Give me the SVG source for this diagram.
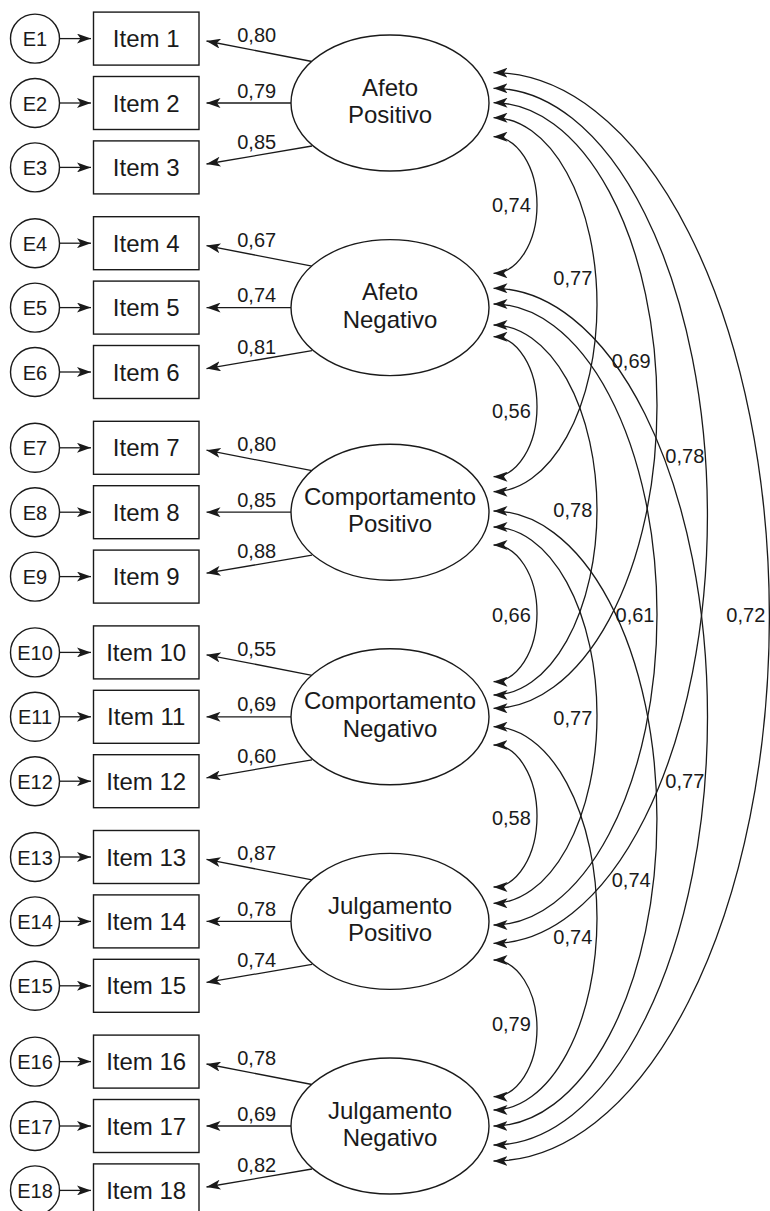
<svg xmlns="http://www.w3.org/2000/svg" width="770" height="1211" viewBox="0 0 770 1211">
<style>
.bg{fill:#ffffff}
.shape{fill:#ffffff;stroke:#1a1a1a;stroke-width:1.4}
.ln{fill:none;stroke:#1a1a1a;stroke-width:1.3}
.t{font-family:"Liberation Sans",Arial,sans-serif;fill:#1a1a1a;text-anchor:middle}
.e{font-size:20px}
.it{font-size:24px}
.lat{font-size:24px}
.num{font-size:20px}
</style>
<defs>
<marker id="ah" viewBox="0 0 14 10" markerWidth="14" markerHeight="10" refX="14" refY="5" orient="auto-start-reverse" markerUnits="userSpaceOnUse">
<path d="M0,0 L14,5 L0,10 L3.5,5 Z" fill="#1a1a1a"/>
</marker>
</defs>
<rect class="bg" x="0" y="0" width="770" height="1211"/>

<g id="connectors">
<!-- error to item -->
<path class="ln" marker-end="url(#ah)" d="M59.5 38.6 H91"/>
<path class="ln" marker-end="url(#ah)" d="M59.5 103 H91"/>
<path class="ln" marker-end="url(#ah)" d="M59.5 167.4 H91"/>
<path class="ln" marker-end="url(#ah)" d="M59.5 243.2 H91"/>
<path class="ln" marker-end="url(#ah)" d="M59.5 307.6 H91"/>
<path class="ln" marker-end="url(#ah)" d="M59.5 372 H91"/>
<path class="ln" marker-end="url(#ah)" d="M59.5 447.8 H91"/>
<path class="ln" marker-end="url(#ah)" d="M59.5 512.2 H91"/>
<path class="ln" marker-end="url(#ah)" d="M59.5 576.6 H91"/>
<path class="ln" marker-end="url(#ah)" d="M59.5 652.4 H91"/>
<path class="ln" marker-end="url(#ah)" d="M59.5 716.8 H91"/>
<path class="ln" marker-end="url(#ah)" d="M59.5 781.2 H91"/>
<path class="ln" marker-end="url(#ah)" d="M59.5 857 H91"/>
<path class="ln" marker-end="url(#ah)" d="M59.5 921.4 H91"/>
<path class="ln" marker-end="url(#ah)" d="M59.5 985.8 H91"/>
<path class="ln" marker-end="url(#ah)" d="M59.5 1061.6 H91"/>
<path class="ln" marker-end="url(#ah)" d="M59.5 1126 H91"/>
<path class="ln" marker-end="url(#ah)" d="M59.5 1190.4 H91"/>
<!-- loadings -->
<path class="ln" marker-end="url(#ah)" d="M312 61.5 L206.5 41"/>
<path class="ln" marker-end="url(#ah)" d="M291 103 H206.5"/>
<path class="ln" marker-end="url(#ah)" d="M312 146 L206.5 164"/>
<path class="ln" marker-end="url(#ah)" d="M312 266.1 L206.5 245.6"/>
<path class="ln" marker-end="url(#ah)" d="M291 307.6 H206.5"/>
<path class="ln" marker-end="url(#ah)" d="M312 350.6 L206.5 368.6"/>
<path class="ln" marker-end="url(#ah)" d="M312 470.7 L206.5 450.2"/>
<path class="ln" marker-end="url(#ah)" d="M291 512.2 H206.5"/>
<path class="ln" marker-end="url(#ah)" d="M312 555.2 L206.5 573.2"/>
<path class="ln" marker-end="url(#ah)" d="M312 675.3 L206.5 654.8"/>
<path class="ln" marker-end="url(#ah)" d="M291 716.8 H206.5"/>
<path class="ln" marker-end="url(#ah)" d="M312 759.8 L206.5 777.8"/>
<path class="ln" marker-end="url(#ah)" d="M312 879.9 L206.5 859.4"/>
<path class="ln" marker-end="url(#ah)" d="M291 921.4 H206.5"/>
<path class="ln" marker-end="url(#ah)" d="M312 964.4 L206.5 982.4"/>
<path class="ln" marker-end="url(#ah)" d="M312 1084.5 L206.5 1064"/>
<path class="ln" marker-end="url(#ah)" d="M291 1126 H206.5"/>
<path class="ln" marker-end="url(#ah)" d="M312 1169 L206.5 1187"/>
<!-- covariances -->
<path class="ln" marker-start="url(#ah)" marker-end="url(#ah)" d="M493.5 136.7 A43.5 68.3 0 0 1 493.5 273.3"/>
<path class="ln" marker-start="url(#ah)" marker-end="url(#ah)" d="M493.5 117.7 A103.5 187 0 0 1 493.5 491.7"/>
<path class="ln" marker-start="url(#ah)" marker-end="url(#ah)" d="M493.5 102.7 A163.5 302.8 0 0 1 493.5 708.3"/>
<path class="ln" marker-start="url(#ah)" marker-end="url(#ah)" d="M493.5 88.3 A214 427.5 0 0 1 493.5 943.3"/>
<path class="ln" marker-start="url(#ah)" marker-end="url(#ah)" d="M493.5 72.7 A276 544.15 0 0 1 493.5 1161"/>
<path class="ln" marker-start="url(#ah)" marker-end="url(#ah)" d="M493.5 336.7 A43.5 70 0 0 1 493.5 476.7"/>
<path class="ln" marker-start="url(#ah)" marker-end="url(#ah)" d="M493.5 325 A103.5 185 0 0 1 493.5 695"/>
<path class="ln" marker-start="url(#ah)" marker-end="url(#ah)" d="M493.5 304 A163.5 310.5 0 0 1 493.5 925"/>
<path class="ln" marker-start="url(#ah)" marker-end="url(#ah)" d="M493.5 288.3 A214 428.35 0 0 1 493.5 1145"/>
<path class="ln" marker-start="url(#ah)" marker-end="url(#ah)" d="M493.5 545 A43.5 68.35 0 0 1 493.5 681.7"/>
<path class="ln" marker-start="url(#ah)" marker-end="url(#ah)" d="M493.5 527 A103.5 188.15 0 0 1 493.5 903.3"/>
<path class="ln" marker-start="url(#ah)" marker-end="url(#ah)" d="M493.5 511 A163.5 307.5 0 0 1 493.5 1126"/>
<path class="ln" marker-start="url(#ah)" marker-end="url(#ah)" d="M493.5 745 A43.5 71 0 0 1 493.5 887"/>
<path class="ln" marker-start="url(#ah)" marker-end="url(#ah)" d="M493.5 726.7 A103.5 191.65 0 0 1 493.5 1110"/>
<path class="ln" marker-start="url(#ah)" marker-end="url(#ah)" d="M493.5 960 A43.5 68.35 0 0 1 493.5 1096.7"/>
</g>

<g id="loading-labels">
<text class="t num" x="256.7" y="42">0,80</text>
<text class="t num" x="256.7" y="97.5">0,79</text>
<text class="t num" x="256.7" y="149">0,85</text>
<text class="t num" x="256.7" y="246.6">0,67</text>
<text class="t num" x="256.7" y="302.1">0,74</text>
<text class="t num" x="256.7" y="353.6">0,81</text>
<text class="t num" x="256.7" y="451.2">0,80</text>
<text class="t num" x="256.7" y="506.7">0,85</text>
<text class="t num" x="256.7" y="558.2">0,88</text>
<text class="t num" x="256.7" y="655.8">0,55</text>
<text class="t num" x="256.7" y="711.3">0,69</text>
<text class="t num" x="256.7" y="762.8">0,60</text>
<text class="t num" x="256.7" y="860.4">0,87</text>
<text class="t num" x="256.7" y="915.9">0,78</text>
<text class="t num" x="256.7" y="967.4">0,74</text>
<text class="t num" x="256.7" y="1065">0,78</text>
<text class="t num" x="256.7" y="1120.5">0,69</text>
<text class="t num" x="256.7" y="1172">0,82</text>
</g>

<g id="covariance-labels">
<text class="t num" x="511.4" y="211.7">0,74</text>
<text class="t num" x="511.4" y="418.3">0,56</text>
<text class="t num" x="511.4" y="621.7">0,66</text>
<text class="t num" x="511.4" y="825">0,58</text>
<text class="t num" x="511.4" y="1030.5">0,79</text>
<text class="t num" x="572.8" y="285">0,77</text>
<text class="t num" x="572.8" y="516.7">0,78</text>
<text class="t num" x="572.8" y="725">0,77</text>
<text class="t num" x="572.8" y="944.3">0,74</text>
<text class="t num" x="631.2" y="368.3">0,69</text>
<text class="t num" x="635" y="621.7">0,61</text>
<text class="t num" x="631.2" y="886.7">0,74</text>
<text class="t num" x="684.8" y="462.7">0,78</text>
<text class="t num" x="684.8" y="788.3">0,77</text>
<text class="t num" x="745.8" y="621.7">0,72</text>
</g>

<g id="E1"><circle class="shape" cx="35" cy="38.6" r="24.5"/><text class="t e" x="35" y="46.1">E1</text></g>
<g id="E2"><circle class="shape" cx="35" cy="103" r="24.5"/><text class="t e" x="35" y="110.5">E2</text></g>
<g id="E3"><circle class="shape" cx="35" cy="167.4" r="24.5"/><text class="t e" x="35" y="174.9">E3</text></g>
<g id="E4"><circle class="shape" cx="35" cy="243.2" r="24.5"/><text class="t e" x="35" y="250.7">E4</text></g>
<g id="E5"><circle class="shape" cx="35" cy="307.6" r="24.5"/><text class="t e" x="35" y="315.1">E5</text></g>
<g id="E6"><circle class="shape" cx="35" cy="372" r="24.5"/><text class="t e" x="35" y="379.5">E6</text></g>
<g id="E7"><circle class="shape" cx="35" cy="447.8" r="24.5"/><text class="t e" x="35" y="455.3">E7</text></g>
<g id="E8"><circle class="shape" cx="35" cy="512.2" r="24.5"/><text class="t e" x="35" y="519.7">E8</text></g>
<g id="E9"><circle class="shape" cx="35" cy="576.6" r="24.5"/><text class="t e" x="35" y="584.1">E9</text></g>
<g id="E10"><circle class="shape" cx="35" cy="652.4" r="24.5"/><text class="t e" x="35" y="659.9">E10</text></g>
<g id="E11"><circle class="shape" cx="35" cy="716.8" r="24.5"/><text class="t e" x="35" y="724.3">E11</text></g>
<g id="E12"><circle class="shape" cx="35" cy="781.2" r="24.5"/><text class="t e" x="35" y="788.7">E12</text></g>
<g id="E13"><circle class="shape" cx="35" cy="857" r="24.5"/><text class="t e" x="35" y="864.5">E13</text></g>
<g id="E14"><circle class="shape" cx="35" cy="921.4" r="24.5"/><text class="t e" x="35" y="928.9">E14</text></g>
<g id="E15"><circle class="shape" cx="35" cy="985.8" r="24.5"/><text class="t e" x="35" y="993.3">E15</text></g>
<g id="E16"><circle class="shape" cx="35" cy="1061.6" r="24.5"/><text class="t e" x="35" y="1069.1">E16</text></g>
<g id="E17"><circle class="shape" cx="35" cy="1126" r="24.5"/><text class="t e" x="35" y="1133.5">E17</text></g>
<g id="E18"><circle class="shape" cx="35" cy="1190.4" r="24.5"/><text class="t e" x="35" y="1197.9">E18</text></g>

<g id="Item1"><rect class="shape" x="93.5" y="12.1" width="105.5" height="53"/><text class="t it" x="146.2" y="47.2">Item 1</text></g>
<g id="Item2"><rect class="shape" x="93.5" y="76.5" width="105.5" height="53"/><text class="t it" x="146.2" y="111.6">Item 2</text></g>
<g id="Item3"><rect class="shape" x="93.5" y="140.9" width="105.5" height="53"/><text class="t it" x="146.2" y="176">Item 3</text></g>
<g id="Item4"><rect class="shape" x="93.5" y="216.7" width="105.5" height="53"/><text class="t it" x="146.2" y="251.8">Item 4</text></g>
<g id="Item5"><rect class="shape" x="93.5" y="281.1" width="105.5" height="53"/><text class="t it" x="146.2" y="316.2">Item 5</text></g>
<g id="Item6"><rect class="shape" x="93.5" y="345.5" width="105.5" height="53"/><text class="t it" x="146.2" y="380.6">Item 6</text></g>
<g id="Item7"><rect class="shape" x="93.5" y="421.3" width="105.5" height="53"/><text class="t it" x="146.2" y="456.4">Item 7</text></g>
<g id="Item8"><rect class="shape" x="93.5" y="485.7" width="105.5" height="53"/><text class="t it" x="146.2" y="520.8">Item 8</text></g>
<g id="Item9"><rect class="shape" x="93.5" y="550.1" width="105.5" height="53"/><text class="t it" x="146.2" y="585.2">Item 9</text></g>
<g id="Item10"><rect class="shape" x="93.5" y="625.9" width="105.5" height="53"/><text class="t it" x="146.2" y="661">Item 10</text></g>
<g id="Item11"><rect class="shape" x="93.5" y="690.3" width="105.5" height="53"/><text class="t it" x="146.2" y="725.4">Item 11</text></g>
<g id="Item12"><rect class="shape" x="93.5" y="754.7" width="105.5" height="53"/><text class="t it" x="146.2" y="789.8">Item 12</text></g>
<g id="Item13"><rect class="shape" x="93.5" y="830.5" width="105.5" height="53"/><text class="t it" x="146.2" y="865.6">Item 13</text></g>
<g id="Item14"><rect class="shape" x="93.5" y="894.9" width="105.5" height="53"/><text class="t it" x="146.2" y="930">Item 14</text></g>
<g id="Item15"><rect class="shape" x="93.5" y="959.3" width="105.5" height="53"/><text class="t it" x="146.2" y="994.4">Item 15</text></g>
<g id="Item16"><rect class="shape" x="93.5" y="1035.1" width="105.5" height="53"/><text class="t it" x="146.2" y="1070.2">Item 16</text></g>
<g id="Item17"><rect class="shape" x="93.5" y="1099.5" width="105.5" height="53"/><text class="t it" x="146.2" y="1134.6">Item 17</text></g>
<g id="Item18"><rect class="shape" x="93.5" y="1163.9" width="105.5" height="53"/><text class="t it" x="146.2" y="1199">Item 18</text></g>

<g id="AfetoPositivo"><ellipse class="shape" cx="390" cy="103" rx="99" ry="68"/><text class="t lat" x="390" y="95.5">Afeto</text><text class="t lat" x="390" y="123">Positivo</text></g>
<g id="AfetoNegativo"><ellipse class="shape" cx="390" cy="307.6" rx="99" ry="68"/><text class="t lat" x="390" y="300.1">Afeto</text><text class="t lat" x="390" y="327.6">Negativo</text></g>
<g id="ComportamentoPositivo"><ellipse class="shape" cx="390" cy="512.2" rx="99" ry="68"/><text class="t lat" x="390" y="504.7">Comportamento</text><text class="t lat" x="390" y="532.2">Positivo</text></g>
<g id="ComportamentoNegativo"><ellipse class="shape" cx="390" cy="716.8" rx="99" ry="68"/><text class="t lat" x="390" y="709.3">Comportamento</text><text class="t lat" x="390" y="736.8">Negativo</text></g>
<g id="JulgamentoPositivo"><ellipse class="shape" cx="390" cy="921.4" rx="99" ry="68"/><text class="t lat" x="390" y="913.9">Julgamento</text><text class="t lat" x="390" y="941.4">Positivo</text></g>
<g id="JulgamentoNegativo"><ellipse class="shape" cx="390" cy="1126" rx="99" ry="68"/><text class="t lat" x="390" y="1118.5">Julgamento</text><text class="t lat" x="390" y="1146">Negativo</text></g>
</svg>
